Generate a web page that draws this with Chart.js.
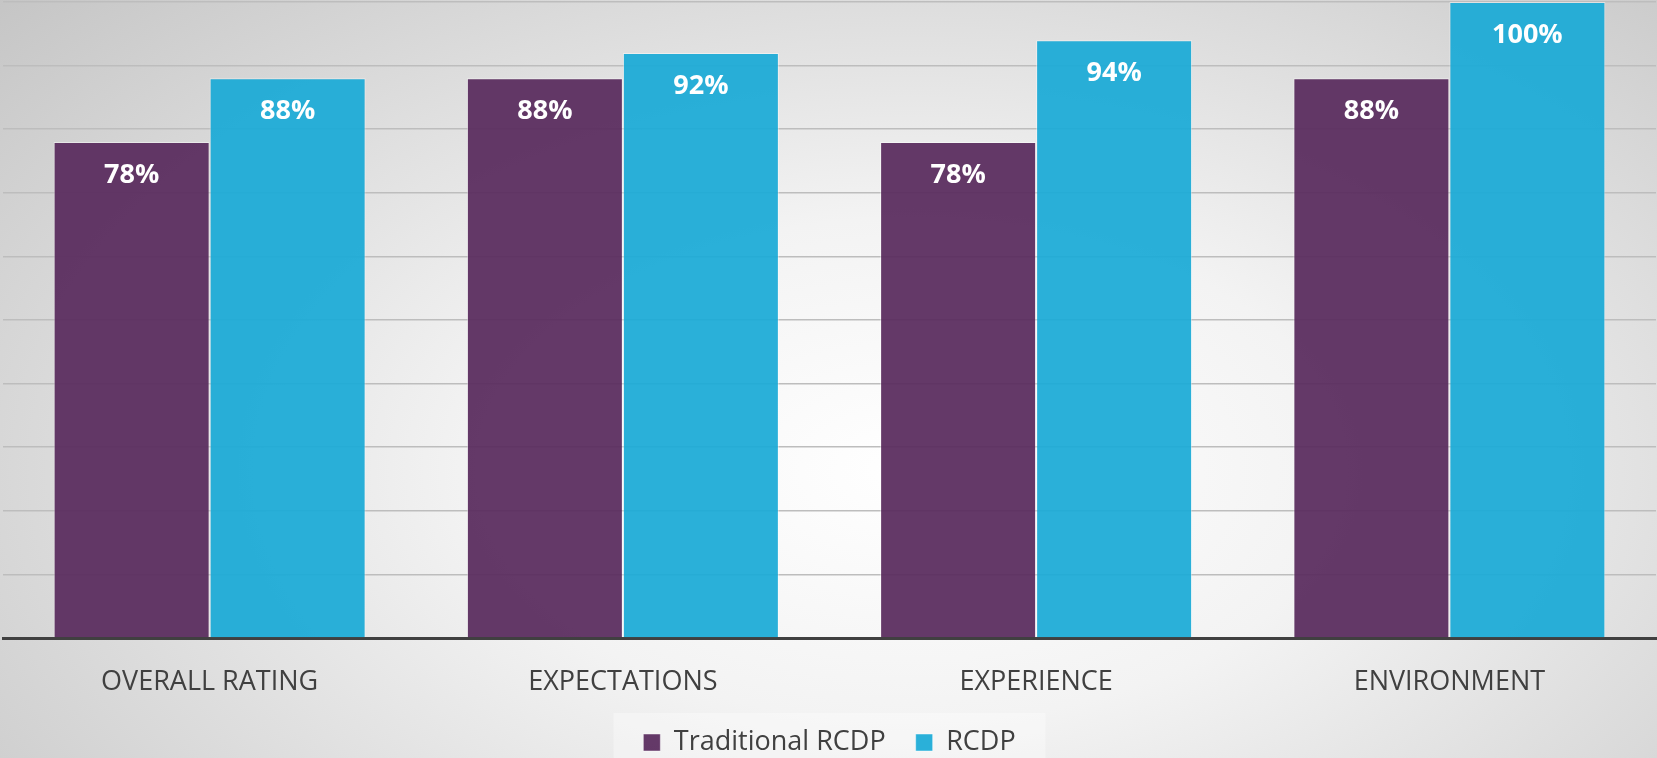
<!DOCTYPE html>
<html>
<head>
<meta charset="utf-8">
<script src="https://cdn.jsdelivr.net/npm/chart.js@4.4.1/dist/chart.umd.min.js"></script>
<style>
  html, body { margin: 0; padding: 0; }
  body {
    width: 1657px; height: 758px; overflow: hidden;
    background: radial-gradient(ellipse 75% 95% at 55% 62%, #ffffff 0%, #f3f3f3 35%, #d6d6d6 75%, #c4c4c4 100%);
  }
  canvas { display: block; }
</style>
</head>
<body>
<canvas id="graph" width="1657" height="758"></canvas>
<script>
  // chart data
  const categories = ['OVERALL RATING', 'EXPECTATIONS', 'EXPERIENCE', 'ENVIRONMENT'];
  const traditionalRcdp = [78, 88, 78, 88];
  const rcdp = [88, 92, 94, 100];
  const yTicks = [0, 10, 20, 30, 40, 50, 60, 70, 80, 90, 100];

  const FONT = '"Open Sans", "Noto Sans", sans-serif';

  // white % labels inside the top of each bar
  const barLabels = {
    id: 'barLabels',
    afterDatasetsDraw(chart) {
      const ctx = chart.ctx;
      ctx.save();
      ctx.fillStyle = '#ffffff';
      ctx.font = 'bold 27px ' + FONT;
      ctx.textAlign = 'center';
      ctx.textBaseline = 'middle';
      chart.data.datasets.forEach((ds, i) => {
        chart.getDatasetMeta(i).data.forEach((bar, j) => {
          ctx.fillText(ds.data[j] + '%', bar.x, bar.y + 33);
        });
      });
      ctx.restore();
    }
  };

  // faint light panel behind the legend
  const legendPanel = {
    id: 'legendPanel',
    beforeDraw(chart) {
      const l = chart.legend;
      if (!l) return;
      const ctx = chart.ctx;
      const cx = (l.left + l.right) / 2;
      ctx.save();
      ctx.fillStyle = 'rgba(255,255,255,0.35)';
      ctx.fillRect(cx - 216, 713, 432, 45);
      ctx.restore();
    }
  };

  const ctx = document.getElementById('graph').getContext('2d');
  const graph = new Chart(ctx, {
    type: 'bar',
    data: {
      labels: categories,
      datasets: [{
        label: 'Traditional RCDP',
        data: traditionalRcdp,
        backgroundColor: 'rgba(88, 42, 92, 0.93)',
        borderColor: 'rgba(255,255,255,0.45)',
        borderWidth: 1,
        categoryPercentage: 0.755,
        barPercentage: 1.0
      }, {
        label: 'RCDP',
        data: rcdp,
        backgroundColor: 'rgba(26, 170, 214, 0.93)',
        borderColor: 'rgba(255,255,255,0.45)',
        borderWidth: 1,
        categoryPercentage: 0.755,
        barPercentage: 1.0
      }]
    },
    options: {
      responsive: false,
      animation: false,
      devicePixelRatio: 1,
      layout: { padding: { left: 3, right: 1, top: 2, bottom: -8 } },
      scales: {
        x: {
          grid: { display: false, drawTicks: false },
          border: { display: true, color: '#404040', width: 3 },
          ticks: {
            color: '#404040',
            font: { family: FONT, size: 27 },
            padding: 28,
            maxRotation: 0
          },
          afterFit(scale) { scale.height = 61; }
        },
        y: {
          min: 0,
          max: 100,
          afterBuildTicks(axis) { axis.ticks = yTicks.map(v => ({ value: v })); },
          ticks: { display: false },
          grid: { color: '#bdbdbd', lineWidth: 1.5, drawTicks: false },
          border: { display: false }
        }
      },
      plugins: {
        legend: {
          position: 'bottom',
          labels: {
            color: '#404040',
            font: { family: FONT, size: 27 },
            boxWidth: 17,
            boxHeight: 17,
            padding: 30
          }
        },
        tooltip: { enabled: false }
      }
    },
    plugins: [legendPanel, barLabels]
  });
</script>
</body>
</html>
